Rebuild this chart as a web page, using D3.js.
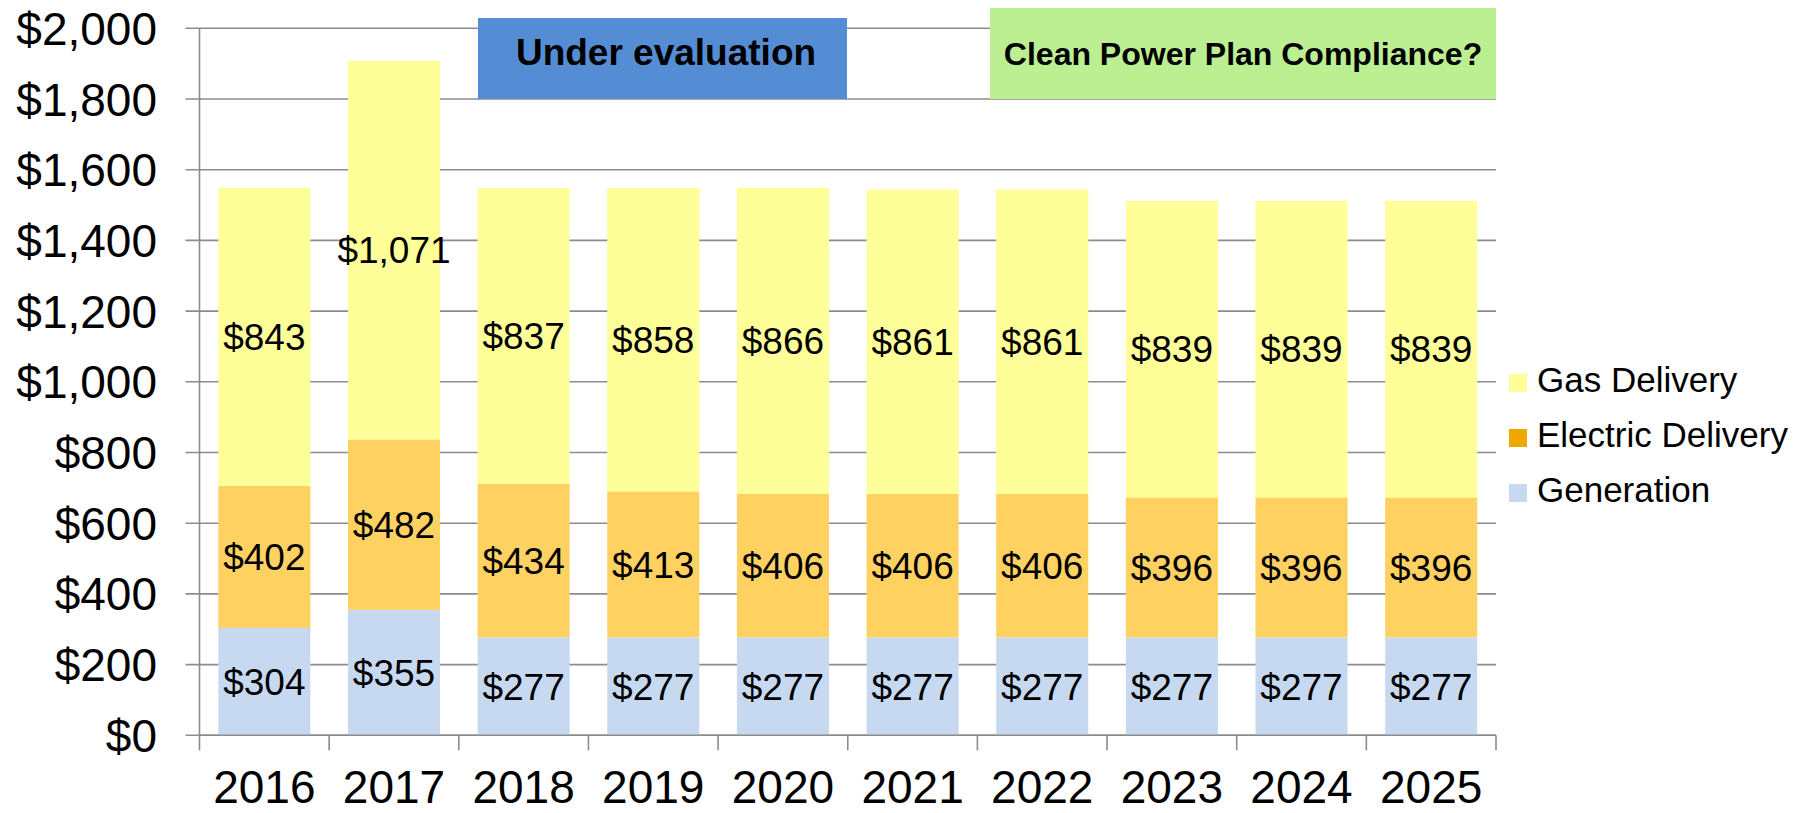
<!DOCTYPE html>
<html>
<head>
<meta charset="utf-8">
<script src="https://cdn.jsdelivr.net/npm/d3@7"></script>
<style>
  body { margin: 0; background: #fff; }
  svg { display: block; font-family: "Liberation Sans", Arial, sans-serif; }
</style>
</head>
<body>
<div id="chart"></div>
<script>
var vWidth = 1806;
var vHeight = 813;

// data
var years = ["2016", "2017", "2018", "2019", "2020", "2021", "2022", "2023", "2024", "2025"];
var generation = [304, 355, 277, 277, 277, 277, 277, 277, 277, 277];
var electricDelivery = [402, 482, 434, 413, 406, 406, 406, 396, 396, 396];
var gasDelivery = [843, 1071, 837, 858, 866, 861, 861, 839, 839, 839];
var yTicks = [0, 200, 400, 600, 800, 1000, 1200, 1400, 1600, 1800, 2000];
var seriesKeys = ["Generation", "Electric Delivery", "Gas Delivery"];
var legendOrder = ["Gas Delivery", "Electric Delivery", "Generation"];

var barColor = { "Generation": "#c6d9f1", "Electric Delivery": "#ffd161", "Gas Delivery": "#ffff99" };
var legendColor = { "Generation": "#c6d9f1", "Electric Delivery": "#efa800", "Gas Delivery": "#ffff99" };

// build rows for d3.stack
var rows = years.map(function (y, i) {
    return {
        year: y,
        "Generation": generation[i],
        "Electric Delivery": electricDelivery[i],
        "Gas Delivery": gasDelivery[i]
    };
});

var plotLeft = 199.5, plotRight = 1496;

var svg = d3.select("#chart")
    .append("svg")
    .attr("width", vWidth)
    .attr("height", vHeight);

var x = d3.scaleBand()
    .domain(years)
    .range([plotLeft, plotRight])
    .paddingInner(0.29)
    .paddingOuter(0.145);

var y = d3.scaleLinear()
    .domain([0, 2000])
    .range([735.3, 28.3]);

var fmt = d3.format(",");

// gridlines + y tick marks
svg.append("g").selectAll("line")
    .data(yTicks)
    .enter().append("line")
    .attr("x1", plotLeft - 14)
    .attr("x2", plotRight)
    .attr("y1", d => y(d))
    .attr("y2", d => y(d))
    .attr("stroke", "#8c8c8c")
    .attr("stroke-width", 1.6);

// y axis labels
svg.append("g").selectAll("text")
    .data(yTicks)
    .enter().append("text")
    .attr("x", 157)
    .attr("y", d => y(d))
    .attr("dy", "0.36em")
    .attr("text-anchor", "end")
    .attr("font-size", 46)
    .attr("fill", "#000")
    .text(d => "$" + fmt(d));

// stacked bars
var stack = d3.stack().keys(seriesKeys);
var layers = stack(rows);

var layerG = svg.append("g").selectAll("g")
    .data(layers)
    .enter().append("g")
    .attr("fill", d => barColor[d.key]);

layerG.selectAll("rect")
    .data(d => d)
    .enter().append("rect")
    .attr("x", d => x(d.data.year))
    .attr("width", x.bandwidth())
    .attr("y", d => y(d[1]))
    .attr("height", d => y(d[0]) - y(d[1]));

// segment labels
layerG.selectAll("text")
    .data(d => d)
    .enter().append("text")
    .attr("x", d => x(d.data.year) + x.bandwidth() / 2)
    .attr("y", d => y((d[0] + d[1]) / 2))
    .attr("dy", "0.36em")
    .attr("text-anchor", "middle")
    .attr("font-size", 37)
    .attr("fill", "#000")
    .text(d => "$" + fmt(d[1] - d[0]));

// axis lines
var step = x.step();
svg.append("line")
    .attr("x1", plotLeft).attr("x2", plotLeft)
    .attr("y1", y(2000)).attr("y2", y(0))
    .attr("stroke", "#8c8c8c").attr("stroke-width", 1.6);

svg.append("line")
    .attr("x1", plotLeft).attr("x2", plotRight)
    .attr("y1", y(0)).attr("y2", y(0))
    .attr("stroke", "#8c8c8c").attr("stroke-width", 1.6);

// category ticks at band edges
svg.append("g").selectAll("line")
    .data(d3.range(years.length + 1))
    .enter().append("line")
    .attr("x1", i => plotLeft + i * step)
    .attr("x2", i => plotLeft + i * step)
    .attr("y1", y(0))
    .attr("y2", y(0) + 15)
    .attr("stroke", "#8c8c8c")
    .attr("stroke-width", 1.6);

// x labels
svg.append("g").selectAll("text")
    .data(years)
    .enter().append("text")
    .attr("x", d => x(d) + x.bandwidth() / 2)
    .attr("y", 803)
    .attr("text-anchor", "middle")
    .attr("font-size", 46)
    .attr("fill", "#000")
    .text(d => d);

// annotation boxes
svg.append("rect")
    .attr("x", 478).attr("y", 18)
    .attr("width", 369).attr("height", y(1800) - 18)
    .attr("fill", "#548dd4");
svg.append("text")
    .attr("x", 666).attr("y", 65)
    .attr("text-anchor", "middle")
    .attr("font-size", 37)
    .attr("font-weight", "bold")
    .attr("fill", "#000")
    .text("Under evaluation");

svg.append("rect")
    .attr("x", 990).attr("y", 8)
    .attr("width", plotRight - 990).attr("height", y(1800) - 8)
    .attr("fill", "#bbef92");
svg.append("text")
    .attr("x", (990 + plotRight) / 2).attr("y", 65)
    .attr("text-anchor", "middle")
    .attr("font-size", 32)
    .attr("font-weight", "bold")
    .attr("fill", "#000")
    .text("Clean Power Plan Compliance?");

// legend
var legend = svg.append("g").selectAll("g")
    .data(legendOrder)
    .enter().append("g")
    .attr("transform", (d, i) => "translate(1509," + (392 + i * 55) + ")");

legend.append("rect")
    .attr("x", 0).attr("y", -18)
    .attr("width", 18).attr("height", 18)
    .attr("fill", d => legendColor[d]);

legend.append("text")
    .attr("x", 28).attr("y", 0)
    .attr("font-size", 35)
    .attr("fill", "#000")
    .text(d => d);
</script>
</body>
</html>
